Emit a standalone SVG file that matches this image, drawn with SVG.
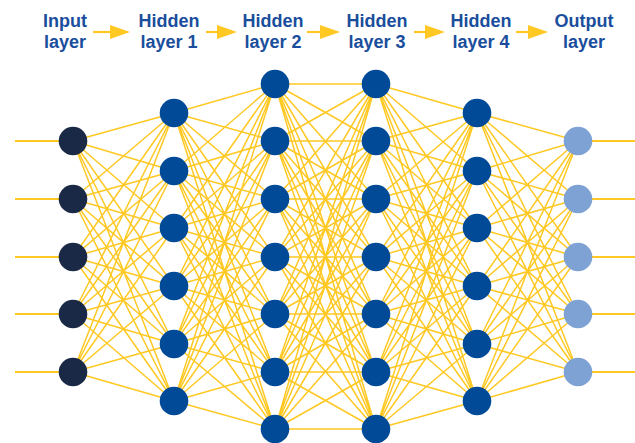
<svg xmlns="http://www.w3.org/2000/svg" width="635" height="443" viewBox="0 0 635 443">
<style>
.lbl{font-family:"Liberation Sans",Arial,sans-serif;font-weight:bold;font-size:18px;fill:#1a4e9c;text-anchor:middle}
.e{fill:none;stroke:#ffc823;stroke-width:1.5}
.stub{stroke:#ffc823;stroke-width:2.2}
.hd{fill:#ffc823}
.in{fill:#1a2946}
.hid{fill:#004a98}
.out{fill:#7ea2d4}
</style>
<rect width="635" height="443" fill="#ffffff"/>
<g id="header">
<text class="lbl" x="65" y="27">Input<tspan x="65" y="48">layer</tspan></text>
<text class="lbl" x="169" y="27">Hidden<tspan x="169" y="48">layer 1</tspan></text>
<text class="lbl" x="273" y="27">Hidden<tspan x="273" y="48">layer 2</tspan></text>
<text class="lbl" x="377" y="27">Hidden<tspan x="377" y="48">layer 3</tspan></text>
<text class="lbl" x="481" y="27">Hidden<tspan x="481" y="48">layer 4</tspan></text>
<text class="lbl" x="584" y="27">Output<tspan x="584" y="48">layer</tspan></text>
<g id="header-arrows">
<line class="stub" x1="93" y1="32" x2="112" y2="32"/><polygon class="hd" points="110,25 130,32 110,39"/>
<line class="stub" x1="206" y1="32" x2="219" y2="32"/><polygon class="hd" points="217,25 237,32 217,39"/>
<line class="stub" x1="307" y1="32" x2="322" y2="32"/><polygon class="hd" points="320,25 340,32 320,39"/>
<line class="stub" x1="414" y1="32" x2="427" y2="32"/><polygon class="hd" points="425,25 445,32 425,39"/>
<line class="stub" x1="516" y1="32" x2="530" y2="32"/><polygon class="hd" points="528,25 548,32 528,39"/>
</g>
</g>
<g id="connectors">
<g id="stubs">
<line class="stub" x1="15" y1="141" x2="73" y2="141"/>
<line class="stub" x1="15" y1="199" x2="73" y2="199"/>
<line class="stub" x1="15" y1="257" x2="73" y2="257"/>
<line class="stub" x1="15" y1="314" x2="73" y2="314"/>
<line class="stub" x1="15" y1="372" x2="73" y2="372"/>
<line class="stub" x1="578" y1="141" x2="635" y2="141"/>
<line class="stub" x1="578" y1="199" x2="635" y2="199"/>
<line class="stub" x1="578" y1="257" x2="635" y2="257"/>
<line class="stub" x1="578" y1="314" x2="635" y2="314"/>
<line class="stub" x1="578" y1="372" x2="635" y2="372"/>
</g>
<path class="e" d="M73 141L174 113M73 141L174 171M73 141L174 228M73 141L174 286M73 141L174 344M73 141L174 401
M73 199L174 113M73 199L174 171M73 199L174 228M73 199L174 286M73 199L174 344M73 199L174 401
M73 257L174 113M73 257L174 171M73 257L174 228M73 257L174 286M73 257L174 344M73 257L174 401
M73 314L174 113M73 314L174 171M73 314L174 228M73 314L174 286M73 314L174 344M73 314L174 401
M73 372L174 113M73 372L174 171M73 372L174 228M73 372L174 286M73 372L174 344M73 372L174 401"/>
<path class="e" d="M174 113L275 84M174 113L275 141M174 113L275 199M174 113L275 257M174 113L275 314M174 113L275 372M174 113L275 429
M174 171L275 84M174 171L275 141M174 171L275 199M174 171L275 257M174 171L275 314M174 171L275 372M174 171L275 429
M174 228L275 84M174 228L275 141M174 228L275 199M174 228L275 257M174 228L275 314M174 228L275 372M174 228L275 429
M174 286L275 84M174 286L275 141M174 286L275 199M174 286L275 257M174 286L275 314M174 286L275 372M174 286L275 429
M174 344L275 84M174 344L275 141M174 344L275 199M174 344L275 257M174 344L275 314M174 344L275 372M174 344L275 429
M174 401L275 84M174 401L275 141M174 401L275 199M174 401L275 257M174 401L275 314M174 401L275 372M174 401L275 429"/>
<path class="e" d="M275 84L376 84M275 84L376 141M275 84L376 199M275 84L376 257M275 84L376 314M275 84L376 372M275 84L376 429
M275 141L376 84M275 141L376 141M275 141L376 199M275 141L376 257M275 141L376 314M275 141L376 372M275 141L376 429
M275 199L376 84M275 199L376 141M275 199L376 199M275 199L376 257M275 199L376 314M275 199L376 372M275 199L376 429
M275 257L376 84M275 257L376 141M275 257L376 199M275 257L376 257M275 257L376 314M275 257L376 372M275 257L376 429
M275 314L376 84M275 314L376 141M275 314L376 199M275 314L376 257M275 314L376 314M275 314L376 372M275 314L376 429
M275 372L376 84M275 372L376 141M275 372L376 199M275 372L376 257M275 372L376 314M275 372L376 372M275 372L376 429
M275 429L376 84M275 429L376 141M275 429L376 199M275 429L376 257M275 429L376 314M275 429L376 372M275 429L376 429"/>
<path class="e" d="M376 84L477 113M376 84L477 171M376 84L477 228M376 84L477 286M376 84L477 344M376 84L477 401
M376 141L477 113M376 141L477 171M376 141L477 228M376 141L477 286M376 141L477 344M376 141L477 401
M376 199L477 113M376 199L477 171M376 199L477 228M376 199L477 286M376 199L477 344M376 199L477 401
M376 257L477 113M376 257L477 171M376 257L477 228M376 257L477 286M376 257L477 344M376 257L477 401
M376 314L477 113M376 314L477 171M376 314L477 228M376 314L477 286M376 314L477 344M376 314L477 401
M376 372L477 113M376 372L477 171M376 372L477 228M376 372L477 286M376 372L477 344M376 372L477 401
M376 429L477 113M376 429L477 171M376 429L477 228M376 429L477 286M376 429L477 344M376 429L477 401"/>
<path class="e" d="M477 113L578 141M477 113L578 199M477 113L578 257M477 113L578 314M477 113L578 372
M477 171L578 141M477 171L578 199M477 171L578 257M477 171L578 314M477 171L578 372
M477 228L578 141M477 228L578 199M477 228L578 257M477 228L578 314M477 228L578 372
M477 286L578 141M477 286L578 199M477 286L578 257M477 286L578 314M477 286L578 372
M477 344L578 141M477 344L578 199M477 344L578 257M477 344L578 314M477 344L578 372
M477 401L578 141M477 401L578 199M477 401L578 257M477 401L578 314M477 401L578 372"/>
</g>
<g id="input-layer">
<circle id="in1" class="in" cx="73" cy="141" r="14.3"/>
<circle id="in2" class="in" cx="73" cy="199" r="14.3"/>
<circle id="in3" class="in" cx="73" cy="257" r="14.3"/>
<circle id="in4" class="in" cx="73" cy="314" r="14.3"/>
<circle id="in5" class="in" cx="73" cy="372" r="14.3"/>
</g>
<g id="hidden-layer-1">
<circle id="h1n1" class="hid" cx="174" cy="113" r="14.3"/>
<circle id="h1n2" class="hid" cx="174" cy="171" r="14.3"/>
<circle id="h1n3" class="hid" cx="174" cy="228" r="14.3"/>
<circle id="h1n4" class="hid" cx="174" cy="286" r="14.3"/>
<circle id="h1n5" class="hid" cx="174" cy="344" r="14.3"/>
<circle id="h1n6" class="hid" cx="174" cy="401" r="14.3"/>
</g>
<g id="hidden-layer-2">
<circle id="h2n1" class="hid" cx="275" cy="84" r="14.3"/>
<circle id="h2n2" class="hid" cx="275" cy="141" r="14.3"/>
<circle id="h2n3" class="hid" cx="275" cy="199" r="14.3"/>
<circle id="h2n4" class="hid" cx="275" cy="257" r="14.3"/>
<circle id="h2n5" class="hid" cx="275" cy="314" r="14.3"/>
<circle id="h2n6" class="hid" cx="275" cy="372" r="14.3"/>
<circle id="h2n7" class="hid" cx="275" cy="429" r="14.3"/>
</g>
<g id="hidden-layer-3">
<circle id="h3n1" class="hid" cx="376" cy="84" r="14.3"/>
<circle id="h3n2" class="hid" cx="376" cy="141" r="14.3"/>
<circle id="h3n3" class="hid" cx="376" cy="199" r="14.3"/>
<circle id="h3n4" class="hid" cx="376" cy="257" r="14.3"/>
<circle id="h3n5" class="hid" cx="376" cy="314" r="14.3"/>
<circle id="h3n6" class="hid" cx="376" cy="372" r="14.3"/>
<circle id="h3n7" class="hid" cx="376" cy="429" r="14.3"/>
</g>
<g id="hidden-layer-4">
<circle id="h4n1" class="hid" cx="477" cy="113" r="14.3"/>
<circle id="h4n2" class="hid" cx="477" cy="171" r="14.3"/>
<circle id="h4n3" class="hid" cx="477" cy="228" r="14.3"/>
<circle id="h4n4" class="hid" cx="477" cy="286" r="14.3"/>
<circle id="h4n5" class="hid" cx="477" cy="344" r="14.3"/>
<circle id="h4n6" class="hid" cx="477" cy="401" r="14.3"/>
</g>
<g id="output-layer">
<circle id="out1" class="out" cx="578" cy="141" r="14.3"/>
<circle id="out2" class="out" cx="578" cy="199" r="14.3"/>
<circle id="out3" class="out" cx="578" cy="257" r="14.3"/>
<circle id="out4" class="out" cx="578" cy="314" r="14.3"/>
<circle id="out5" class="out" cx="578" cy="372" r="14.3"/>
</g>
</svg>
